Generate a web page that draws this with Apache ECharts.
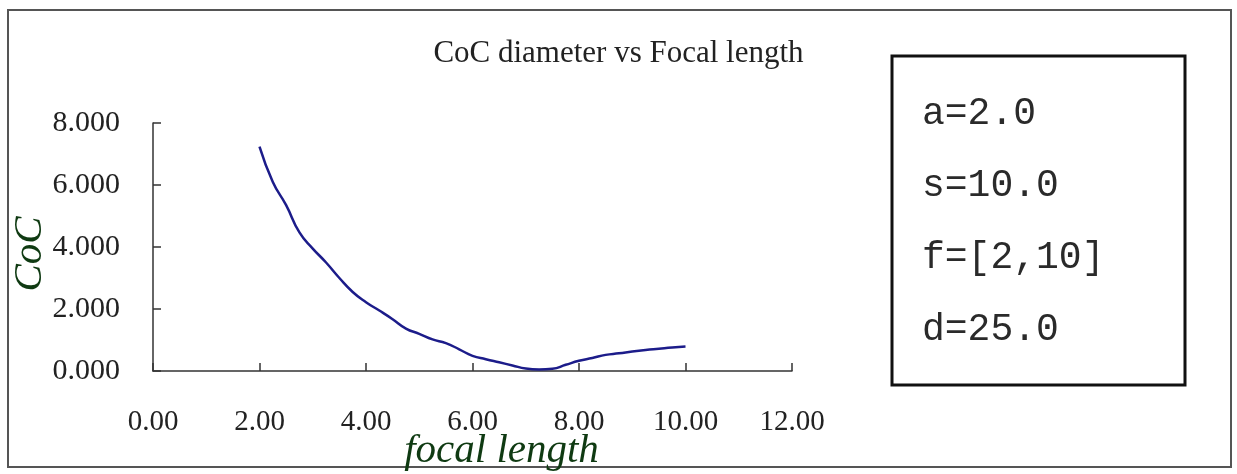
<!DOCTYPE html>
<html>
<head>
<meta charset="utf-8">
<script src="https://cdn.jsdelivr.net/npm/echarts@6/dist/echarts.min.js"></script>
<style>
  html, body { margin: 0; padding: 0; background: #fff; }
  #chart { width: 1237px; height: 474px; }
</style>
</head>
<body>
<div id="chart"></div>
<script>
// data
const focalLength = [2.0, 2.25, 2.5, 2.75, 3.0, 3.25, 3.5, 3.75, 4.0, 4.25, 4.5, 4.75,
  5.0, 5.25, 5.5, 5.75, 6.0, 6.25, 6.5, 6.75, 7.0, 7.25, 7.5, 7.75, 8.0, 8.25,
  8.5, 8.75, 9.0, 9.25, 9.5, 9.75, 10.0];
const cocDiameter = [7.24, 6.1, 5.35, 4.47, 3.95, 3.5, 3.0, 2.55, 2.22, 1.95, 1.67, 1.37,
  1.2, 1.02, 0.9, 0.7, 0.49, 0.38, 0.28, 0.18, 0.08, 0.05, 0.07, 0.2, 0.33, 0.42,
  0.52, 0.57, 0.63, 0.68, 0.72, 0.76, 0.79];
const paramLines = ['a=2.0', 's=10.0', 'f=[2,10]', 'd=25.0'];

const serif = '"Liberation Serif", "DejaVu Serif", serif';
const green = '#0f3a12';

const chart = echarts.init(document.getElementById('chart'));

const points = focalLength.map((f, i) => [f, cocDiameter[i]]);

const option = {
  backgroundColor: '#fff',
  animation: false,
  title: {
    text: 'CoC diameter vs Focal length',
    left: 'center',
    top: 38,
    padding: [0, 0, 0, 4],
    textStyle: { fontFamily: serif, fontWeight: 'normal', fontSize: 31, color: '#222' }
  },
  grid: { left: 153, top: 123, width: 639, height: 248, outerBoundsMode: 'none', containLabel: false },
  xAxis: {
    type: 'value',
    min: 0, max: 12, interval: 2,
    name: 'focal length',
    nameLocation: 'middle',
    nameGap: 60,
    nameMoveOverlap: false,
    nameTextStyle: {
      fontFamily: serif, fontStyle: 'italic', fontSize: 41, color: green,
      padding: [0, 0, 0, 58]
    },
    axisLine: { lineStyle: { color: '#333', width: 1.5 } },
    axisTick: { inside: true, length: 8, lineStyle: { color: '#333', width: 1.5 } },
    splitLine: { show: false },
    axisLabel: {
      margin: 37,
      fontFamily: serif, fontSize: 29, color: '#222',
      formatter: v => v.toFixed(2)
    }
  },
  yAxis: {
    type: 'value',
    min: 0, max: 8, interval: 2,
    name: 'CoC',
    nameLocation: 'middle',
    nameGap: 102,
    nameMoveOverlap: false,
    nameTextStyle: {
      fontFamily: serif, fontStyle: 'italic', fontSize: 41, color: green,
      padding: [0, 14, 0, 0]
    },
    axisLine: { show: true, lineStyle: { color: '#333', width: 1.5 } },
    axisTick: { show: true, inside: true, length: 8, lineStyle: { color: '#333', width: 1.5 } },
    splitLine: { show: false },
    axisLabel: {
      margin: 33,
      fontFamily: serif, fontSize: 30, color: '#222',
      formatter: v => v.toFixed(3)
    }
  },
  graphic: [
    {
      type: 'rect',
      shape: { x: 8, y: 10, width: 1223, height: 457 },
      style: { fill: 'none', stroke: '#555', lineWidth: 2 },
      z: -1
    },
    {
      type: 'rect',
      shape: { x: 892, y: 56, width: 293, height: 329 },
      style: { fill: '#fff', stroke: '#111', lineWidth: 3 }
    },
    {
      type: 'text',
      left: 922,
      top: 78,
      style: {
        text: paramLines.join('\n'),
        font: '38px "Liberation Mono", "DejaVu Sans Mono", monospace',
        lineHeight: 72,
        fill: '#2a2a2a'
      }
    }
  ],
  series: [{
    type: 'line',
    data: points,
    showSymbol: false,
    smooth: true,
    lineStyle: { color: '#1c1c8a', width: 2.5 }
  }]
};

chart.setOption(option);
</script>
</body>
</html>
